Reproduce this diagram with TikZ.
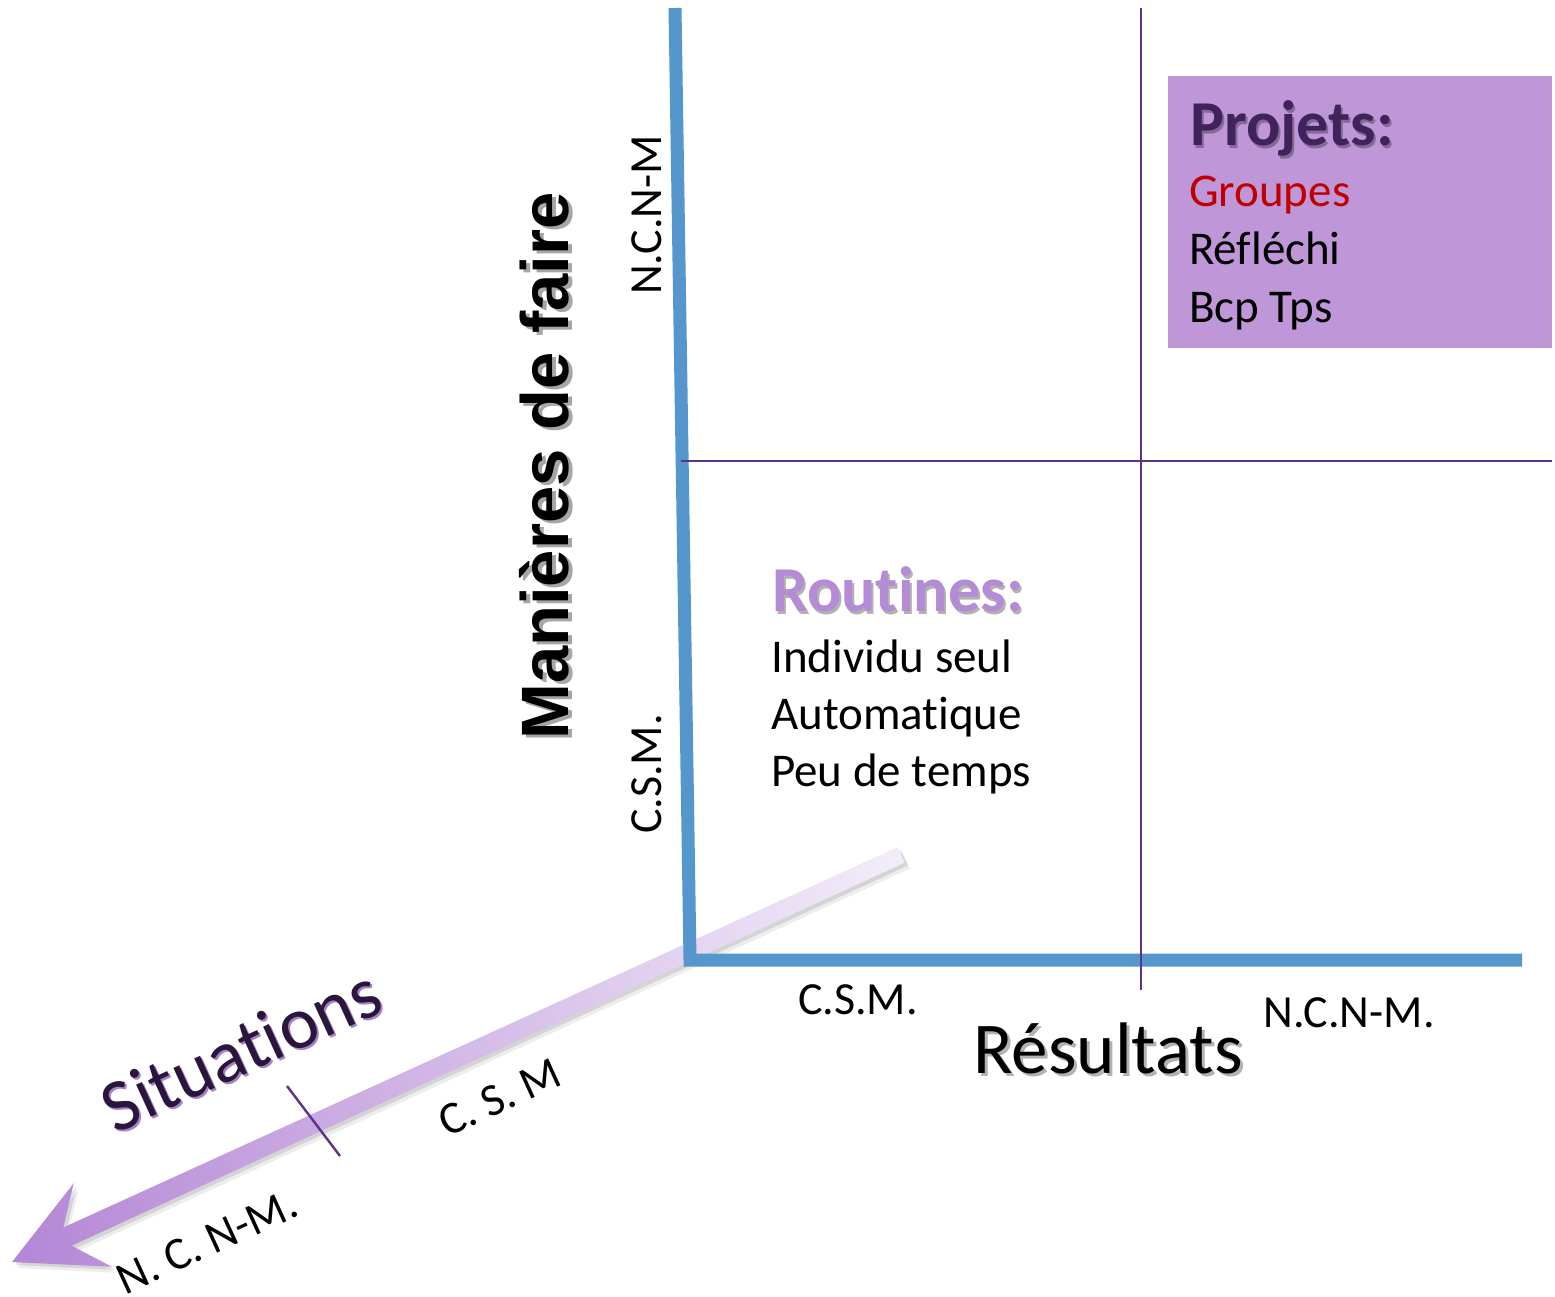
\documentclass[tikz,border=0pt]{standalone}
\usepackage{fontspec}
\setmainfont{Carlito}[RawFeature={-liga;-calt;-clig;-dlig}]
\newfontfamily\arialfam{Liberation Sans}
\usetikzlibrary{calc}
\definecolor{axisblue}{RGB}{85,150,205}
\definecolor{gridpurple}{RGB}{94,50,135}
\definecolor{boxlav}{RGB}{191,151,217}
\definecolor{projtext}{RGB}{64,35,90}
\definecolor{routtext}{RGB}{180,140,214}
\definecolor{grpred}{RGB}{192,0,0}
\definecolor{arrdark}{RGB}{180,134,214}
\definecolor{arrlight}{RGB}{243,237,249}
\definecolor{sitdark}{RGB}{42,22,60}
\definecolor{sitglow}{RGB}{140,100,180}
\pgfdeclareradialshading{vignette}{\pgfpoint{0bp}{0bp}}{color(0bp)=(white); color(33bp)=(white); color(43bp)=(black!9); color(50bp)=(black!12)}
\newcommand\fsz[1]{\fontsize{#1}{#1}\selectfont}
\begin{document}
\begin{tikzpicture}[x=1pt,y=-1pt,
  axisline/.style={draw=axisblue, line width=13pt, line join=miter},
  gridline/.style={draw=gridpurple, line width=2.4pt},
  bodytxt/.style={anchor=base west, inner sep=0pt, font=\fsz{47}, text=black},
  lbl/.style={anchor=base, inner sep=0pt, font=\fsz{46}, text=black},
  shadowtxt/.style={text=black, opacity=0.3},
  arrowshape/.style={left color=arrdark, right color=arrlight}
]
\useasboundingbox (0,0) rectangle (1555,1297);
\fill[white] (0,0) rectangle (1555,1297);
\begin{scope}
  \clip (0,0) rectangle (1555,1297);
  \shade[shading=vignette] (1000,650) circle (1400pt);
\end{scope}

% Situations arrow (soft shadow then body)
\begin{scope}[shift={(17,1268)}, rotate=24.6]
  \fill[black, opacity=0.07] (0,0) -- (89,46) -- (61,10) -- (978,8.5) -- (978,-8.5) -- (61,-10) -- (89,-46) -- cycle;
\end{scope}
\begin{scope}[shift={(15,1265)}, rotate=24.6]
  \fill[black, opacity=0.1] (0,0) -- (89,46) -- (61,10) -- (978,8.5) -- (978,-8.5) -- (61,-10) -- (89,-46) -- cycle;
\end{scope}
\begin{scope}[shift={(12,1262)}, rotate=24.6]
  \shade[arrowshape] (0,0) -- (89,46) -- (61,10) -- (978,8.5) -- (978,-8.5) -- (61,-10) -- (89,-46) -- cycle;
\end{scope}

% blue axes
\coordinate (vtop) at (675,8);
\coordinate (orig) at (690,960);
\coordinate (hend) at (1522,960);
\draw[axisline] (vtop) -- (orig) -- (hend);

% purple grid lines
\coordinate (pvtop) at (1141,8);
\coordinate (pvbot) at (1141,990);
\coordinate (phl) at (681,461);
\coordinate (phr) at (1552,461);
\draw[gridline] (pvtop) -- (pvbot);
\draw[gridline] (phl) -- (phr);

% tick on the Situations arrow
\coordinate (ticka) at (287,1086);
\coordinate (tickb) at (340,1156);
\draw[gridline] (ticka) -- (tickb);

% Projets box
\node (projbox) [fill=boxlav, minimum width=384pt, minimum height=272pt, anchor=north west, inner sep=0pt] at (1168,76) {};
\node (projsh) [anchor=base west, inner sep=0pt, font=\fsz{64}\bfseries, shadowtxt] at (1192,149) {Projets:};
\node (projt) [anchor=base west, inner sep=0pt, font=\fsz{64}\bfseries, text=projtext] at (1190,146) {Projets:};
\node (grp) [bodytxt, text=grpred] at (1189,207) {Groupes};
\node (refl) [bodytxt] at (1189,265) {Réfléchi};
\node (bcp) [bodytxt] at (1189,323) {Bcp Tps};

% Routines
\node (routsh) [anchor=base west, inner sep=0pt, font=\fsz{64}\bfseries, shadowtxt] at (774,614) {Routines:};
\node (routt) [anchor=base west, inner sep=0pt, font=\fsz{64}\bfseries, text=routtext] at (772,611) {Routines:};
\node (ind) [bodytxt] at (771,672) {Individu seul};
\node (auto) [bodytxt] at (771,729) {Automatique};
\node (peu) [bodytxt] at (771,786) {Peu de temps};

% vertical axis title and labels
\node (mansh) [anchor=base, inner sep=0pt, rotate=90, font=\arialfam\bfseries\fsz{67}, shadowtxt, opacity=0.35] at (572,469) {Manières de faire};
\node (man) [anchor=base, inner sep=0pt, rotate=90, font=\arialfam\bfseries\fsz{67}, text=black] at (568,466) {Manières de faire};
\node (ncnmv) [lbl, rotate=90] at (661,215) {N.C.N-M};
\node (csmv) [lbl, rotate=90] at (661,774) {C.S.M.};

% horizontal axis title and labels
\node (csmh) [lbl] at (858,1014) {C.S.M.};
\node (ncnmh) [lbl] at (1349,1027) {N.C.N-M.};
\node (ressh) [anchor=base, inner sep=0pt, font=\fsz{73}, shadowtxt] at (1111,1076) {Résultats};
\node (res) [anchor=base, inner sep=0pt, font=\fsz{73}, text=black] at (1108,1073) {Résultats};

% Situations axis title and labels
\node (sitsh) [anchor=base, inner sep=0pt, rotate=24.6, font=\fsz{74}, text=sitglow, opacity=0.8] at (253,1074) {Situations};
\node (sit) [anchor=base, inner sep=0pt, rotate=24.6, font=\fsz{74}, text=sitdark] at (251,1072) {Situations};
\node (csmd) [lbl, rotate=24.6] at (506,1111) {C. S. M};
\node (ncnmd) [lbl, rotate=24.6] at (213,1255) {N. C. N-M.};
\end{tikzpicture}
\end{document}
